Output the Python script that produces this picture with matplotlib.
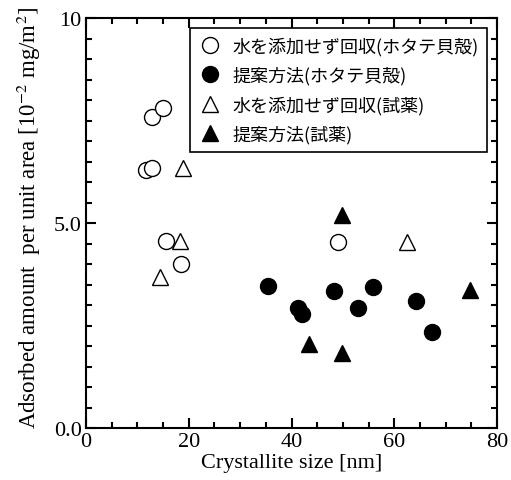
import matplotlib.pyplot as plt
from matplotlib.ticker import MultipleLocator, FixedLocator, FixedFormatter

# 水を添加せず回収(ホタテ貝殻)
shell_nowater_x = [12.8, 15.0, 11.7, 12.8, 15.6, 18.4, 49.1]
shell_nowater_y = [7.59, 7.80, 6.30, 6.34, 4.55, 4.00, 4.53]
# 提案方法(ホタテ貝殻)
shell_prop_x = [35.5, 41.2, 42.0, 48.3, 53.0, 55.9, 64.2, 67.3]
shell_prop_y = [3.46, 2.93, 2.78, 3.34, 2.93, 3.45, 3.09, 2.33]
# 水を添加せず回収(試薬)
reag_nowater_x = [18.9, 18.2, 14.4, 62.5]
reag_nowater_y = [6.33, 4.55, 3.69, 4.53]
# 提案方法(試薬)
reag_prop_x = [43.4, 49.8, 74.7, 49.8]
reag_prop_y = [2.05, 1.82, 3.37, 5.20]

labels = ['水を添加せず回収(ホタテ貝殻)', '提案方法(ホタテ貝殻)',
          '水を添加せず回収(試薬)', '提案方法(試薬)']

plt.rcParams['font.family'] = ['Liberation Serif', 'DejaVu Serif']
plt.rcParams['mathtext.fontset'] = 'stix'

fig = plt.figure(figsize=(5.11, 4.81), dpi=100)
ax = fig.add_axes([86 / 511, 1 - 429 / 481, 411 / 511, 410 / 481])

ms = 11.5
ax.plot(shell_nowater_x, shell_nowater_y, 'o', ms=ms, mfc='white', mec='black', mew=1.0, ls='none', label=labels[0])
ax.plot(shell_prop_x, shell_prop_y, 'o', ms=ms, mfc='black', mec='black', ls='none', label=labels[1])
ax.plot(reag_nowater_x, reag_nowater_y, '^', ms=ms, mfc='white', mec='black', mew=1.0, ls='none', label=labels[2])
ax.plot(reag_prop_x, reag_prop_y, '^', ms=ms, mfc='black', mec='black', ls='none', label=labels[3])

ax.set_xlim(0, 80)
ax.set_ylim(0, 10)
ax.xaxis.set_major_locator(MultipleLocator(20))
ax.xaxis.set_minor_locator(MultipleLocator(5))
ax.yaxis.set_major_locator(FixedLocator([0, 5, 10]))
ax.yaxis.set_major_formatter(FixedFormatter(['0.0', '5.0', '10']))
ax.yaxis.set_minor_locator(MultipleLocator(0.5))
ax.tick_params(which='both', direction='in', top=True, right=True, width=1.5, labelsize=16)
ax.tick_params(which='major', length=7, pad=3)
ax.tick_params(which='minor', length=4)
for s in ax.spines.values():
    s.set_linewidth(1.5)

ax.set_xlabel('Crystallite size [nm]', fontsize=16, labelpad=1)
ax.set_ylabel('Adsorbed amount  per unit area [10$^{-2}$ mg/m$^{2}$]', fontsize=16.5)
ax.yaxis.set_label_coords(-0.105, 0.515)

leg = ax.legend(loc='upper right', bbox_to_anchor=(0.975, 0.975), borderaxespad=0,
                frameon=True, fancybox=False,
                edgecolor='black', framealpha=1, handletextpad=0.6, labelspacing=0.6,
                borderpad=0.45, handlelength=1.3,
                prop={'family': ['Noto Sans CJK JP', 'DejaVu Sans'], 'size': 13})
leg.get_frame().set_linewidth(1.2)

fig.savefig('out.png', dpi=100)
